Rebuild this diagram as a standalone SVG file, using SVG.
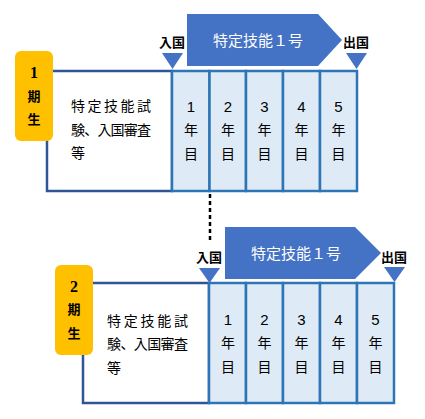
<svg xmlns="http://www.w3.org/2000/svg" width="425" height="419" viewBox="0 0 425 419">
<style>
.outer{fill:#fff;stroke:#2F5597;stroke-width:2.5}
.year{fill:#DEEBF7;stroke:#2E75B6;stroke-width:2.5}
.badge{fill:#FFC000}
.arrow{fill:#4472C4}
.tri{fill:#4472C4}
.t{font-family:"Liberation Sans","Noto Sans CJK JP",sans-serif;font-size:14px;fill:#000}
.yt{font-family:"Liberation Sans","Noto Sans CJK JP",sans-serif;font-size:14px;fill:#000;text-anchor:middle}
.yt .d{font-size:15px}
.bt{font-family:"Liberation Serif","Noto Sans CJK JP",serif;font-size:13px;font-weight:bold;fill:#000;text-anchor:middle}
.bd{font-family:"Liberation Serif",serif;font-size:16px;font-weight:bold;fill:#000;text-anchor:middle}
.lab{font-family:"Liberation Serif","Noto Sans CJK JP",serif;font-size:13px;font-weight:bold;fill:#000;text-anchor:middle}
.at{font-family:"Liberation Sans","Noto Sans CJK JP",sans-serif;font-size:15px;fill:#fff;text-anchor:middle}
</style>
<rect width="425" height="419" fill="#fff"/>
<g id="connectors">
<line x1="210" y1="194" x2="210" y2="241" stroke="#000" stroke-width="2.5" stroke-dasharray="4,3"/>
</g>
<g id="cohort1">
<rect class="outer" x="47" y="71" width="125" height="120"/>
<text class="t" x="71" y="111" textLength="80" lengthAdjust="spacing">特定技能試</text>
<text class="t" x="71" y="135" textLength="80" lengthAdjust="spacing">験、入国審査</text>
<text class="t" x="71" y="158">等</text>
<rect class="year" x="172" y="71" width="37.5" height="120"/>
<rect class="year" x="209.5" y="71" width="36.5" height="120"/>
<rect class="year" x="246" y="71" width="37" height="120"/>
<rect class="year" x="283" y="71" width="37" height="120"/>
<rect class="year" x="320" y="71" width="37" height="120"/>
<g class="yt">
<text class="d" x="191" y="112">1</text><text x="191" y="135">年</text><text x="191" y="159">目</text>
<text class="d" x="228" y="112">2</text><text x="228" y="135">年</text><text x="228" y="159">目</text>
<text class="d" x="264.5" y="112">3</text><text x="264.5" y="135">年</text><text x="264.5" y="159">目</text>
<text class="d" x="301.5" y="112">4</text><text x="301.5" y="135">年</text><text x="301.5" y="159">目</text>
<text class="d" x="338.5" y="112">5</text><text x="338.5" y="135">年</text><text x="338.5" y="159">目</text>
</g>
<rect class="badge" x="15" y="51" width="38" height="90" rx="6"/>
<text class="bd" x="34" y="78">1</text>
<text class="bt" x="34" y="101">期</text>
<text class="bt" x="34" y="124">生</text>
<polygon class="arrow" points="187,14 318,14 342,40 318,66 187,66"/>
<text class="at" x="258" y="46">特定技能１号</text>
<text class="lab" x="172" y="47">入国</text>
<polygon class="tri" points="162,53 183,53 172.5,69"/>
<text class="lab" x="356" y="47">出国</text>
<polygon class="tri" points="346,53 367,53 356.5,69"/>
</g>
<g id="cohort2">
<rect class="outer" x="83" y="283" width="126" height="120"/>
<text class="t" x="107" y="326" textLength="81" lengthAdjust="spacing">特定技能試</text>
<text class="t" x="107" y="349" textLength="81" lengthAdjust="spacing">験、入国審査</text>
<text class="t" x="107" y="373">等</text>
<rect class="year" x="209" y="283" width="37" height="120"/>
<rect class="year" x="246" y="283" width="37" height="120"/>
<rect class="year" x="283" y="283" width="37" height="120"/>
<rect class="year" x="320" y="283" width="37" height="120"/>
<rect class="year" x="357" y="283" width="37" height="120"/>
<g class="yt">
<text class="d" x="228" y="325">1</text><text x="228" y="348">年</text><text x="228" y="372">目</text>
<text class="d" x="264.5" y="325">2</text><text x="264.5" y="348">年</text><text x="264.5" y="372">目</text>
<text class="d" x="301.5" y="325">3</text><text x="301.5" y="348">年</text><text x="301.5" y="372">目</text>
<text class="d" x="338.5" y="325">4</text><text x="338.5" y="348">年</text><text x="338.5" y="372">目</text>
<text class="d" x="375.5" y="325">5</text><text x="375.5" y="348">年</text><text x="375.5" y="372">目</text>
</g>
<rect class="badge" x="55" y="265" width="38" height="90" rx="6"/>
<text class="bd" x="74" y="292">2</text>
<text class="bt" x="74" y="314">期</text>
<text class="bt" x="74" y="338">生</text>
<polygon class="arrow" points="225,227 355,227 381,253 355,279 225,279"/>
<text class="at" x="296" y="259">特定技能１号</text>
<text class="lab" x="209" y="262">入国</text>
<polygon class="tri" points="199,268 220,268 209.5,283"/>
<text class="lab" x="394" y="262">出国</text>
<polygon class="tri" points="384,267 405,267 394.5,282"/>
</g>
</svg>
